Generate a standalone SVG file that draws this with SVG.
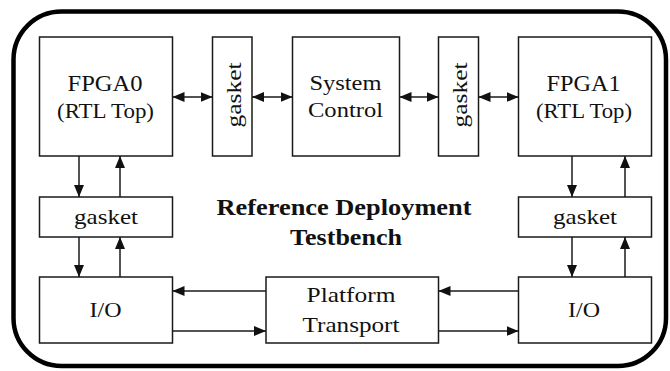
<svg xmlns="http://www.w3.org/2000/svg" width="670" height="371" viewBox="0 0 670 371">
<defs>
<style>
.box{fill:#fff;stroke:#1a1a1a;stroke-width:1.5}
.t{font-family:"Liberation Serif","Times New Roman",serif;font-size:22px;fill:#111;text-anchor:middle}
.big{font-size:24px}
.sub{font-size:20px}
.title{font-family:"Liberation Serif","Times New Roman",serif;font-size:23px;font-weight:bold;fill:#111;text-anchor:middle}
.c{stroke:#1a1a1a;stroke-width:1.5;fill:none}
.a1{marker-end:url(#ah)}
.a2{marker-start:url(#ah);marker-end:url(#ah)}
</style>
<marker id="ah" markerUnits="userSpaceOnUse" markerWidth="12" markerHeight="10" refX="12" refY="5" orient="auto-start-reverse">
<path d="M0,0 L12,5 L0,10 z" fill="#111"/>
</marker>
</defs>
<rect width="670" height="371" fill="#fff"/>
<rect id="testbench" x="13.5" y="11.5" width="652.5" height="354.5" rx="48" ry="48" fill="none" stroke="#000" stroke-width="4.5"/>
<text class="title" x="344" y="215" textLength="255" lengthAdjust="spacingAndGlyphs">Reference Deployment</text>
<text class="title" x="346" y="245" textLength="112" lengthAdjust="spacingAndGlyphs">Testbench</text>

<g id="fpga0">
<rect class="box" x="39.5" y="37" width="133" height="119"/>
<text class="t big" x="105" y="91" textLength="75" lengthAdjust="spacingAndGlyphs">FPGA0</text>
<text class="t sub" x="105.5" y="118" textLength="97" lengthAdjust="spacingAndGlyphs">(RTL Top)</text>
</g>
<g id="gasketA">
<rect class="box" x="212.5" y="37" width="39.5" height="119"/>
<text class="t" transform="translate(241,95) rotate(-90)" x="0" y="0" textLength="65" lengthAdjust="spacingAndGlyphs">gasket</text>
</g>
<g id="sysctrl">
<rect class="box" x="292.5" y="37" width="107" height="119"/>
<text class="t" x="345.5" y="89.5" textLength="72" lengthAdjust="spacingAndGlyphs">System</text>
<text class="t" x="345.5" y="117" textLength="75" lengthAdjust="spacingAndGlyphs">Control</text>
</g>
<g id="gasketB">
<rect class="box" x="438.5" y="37" width="40" height="119"/>
<text class="t" transform="translate(467,95) rotate(-90)" x="0" y="0" textLength="65" lengthAdjust="spacingAndGlyphs">gasket</text>
</g>
<g id="fpga1">
<rect class="box" x="518.5" y="37" width="133" height="119"/>
<text class="t big" x="583.5" y="91" textLength="74" lengthAdjust="spacingAndGlyphs">FPGA1</text>
<text class="t sub" x="584" y="118" textLength="96" lengthAdjust="spacingAndGlyphs">(RTL Top)</text>
</g>
<g id="gasketL">
<rect class="box" x="39.5" y="197" width="133" height="40"/>
<text class="t" x="106" y="224" textLength="64" lengthAdjust="spacingAndGlyphs">gasket</text>
</g>
<g id="gasketR">
<rect class="box" x="518.5" y="197" width="133" height="40"/>
<text class="t" x="585" y="224" textLength="64" lengthAdjust="spacingAndGlyphs">gasket</text>
</g>
<g id="ioL">
<rect class="box" x="39.5" y="277" width="133" height="66"/>
<text class="t" x="105.5" y="317" textLength="32" lengthAdjust="spacingAndGlyphs">I/O</text>
</g>
<g id="platform">
<rect class="box" x="266" y="277" width="172.5" height="66"/>
<text class="t" x="351" y="301.5" textLength="89" lengthAdjust="spacingAndGlyphs">Platform</text>
<text class="t" x="351" y="331.5" textLength="97" lengthAdjust="spacingAndGlyphs">Transport</text>
</g>
<g id="ioR">
<rect class="box" x="518.5" y="277" width="133" height="66"/>
<text class="t" x="584" y="317" textLength="32" lengthAdjust="spacingAndGlyphs">I/O</text>
</g>

<g id="connectors">
<line class="c a2" x1="172.5" y1="97" x2="212.5" y2="97"/>
<line class="c a2" x1="252" y1="97" x2="292.5" y2="97"/>
<line class="c a2" x1="399.5" y1="97" x2="438.5" y2="97"/>
<line class="c a2" x1="478.5" y1="97" x2="518.5" y2="97"/>
<line class="c a1" x1="79" y1="156" x2="79" y2="197"/>
<line class="c a1" x1="120" y1="197" x2="120" y2="156"/>
<line class="c a1" x1="79" y1="237" x2="79" y2="277"/>
<line class="c a1" x1="120" y1="277" x2="120" y2="237"/>
<line class="c a1" x1="572" y1="156" x2="572" y2="197"/>
<line class="c a1" x1="625" y1="197" x2="625" y2="156"/>
<line class="c a1" x1="572" y1="237" x2="572" y2="277"/>
<line class="c a1" x1="625" y1="277" x2="625" y2="237"/>
<line class="c a1" x1="266" y1="291" x2="172.5" y2="291"/>
<line class="c a1" x1="172.5" y1="331" x2="266" y2="331"/>
<line class="c a1" x1="518.5" y1="291" x2="438.5" y2="291"/>
<line class="c a1" x1="438.5" y1="331" x2="518.5" y2="331"/>
</g>
</svg>
